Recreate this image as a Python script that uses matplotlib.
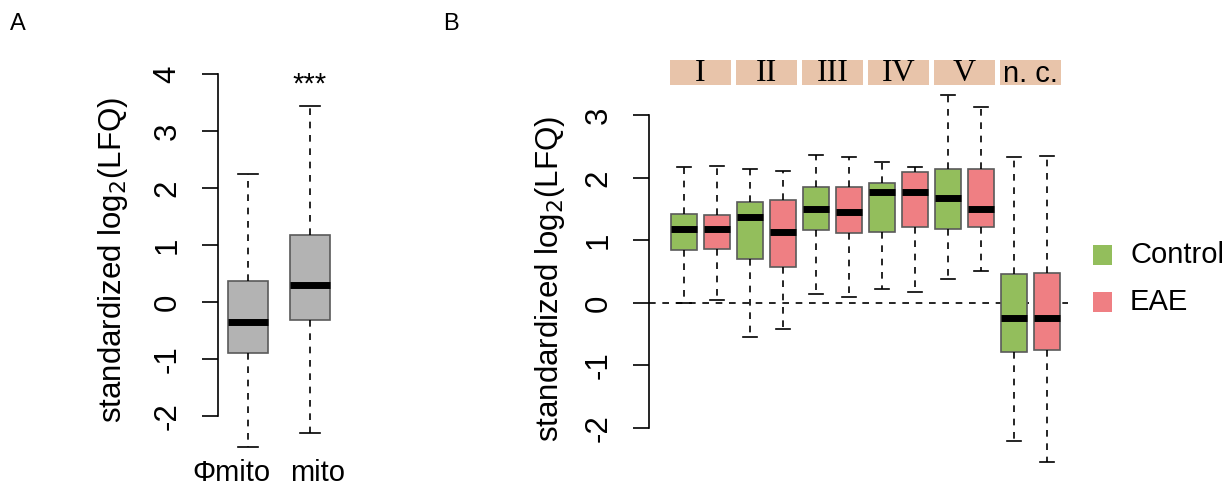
import numpy as np
import matplotlib
matplotlib.use("Agg")
import matplotlib.pyplot as plt

plt.rcParams['font.family'] = ['Liberation Sans', 'DejaVu Sans']

# ---------------- data ----------------
# panel A: whisker low, q1, median, q3, whisker high
a_labels = ["\u03a6mito", "mito"]
a_whislo = [-2.55, -2.30]
a_q1 = [-0.90, -0.32]
a_med = [-0.35, 0.30]
a_q3 = [0.37, 1.17]
a_whishi = [2.25, 3.43]

# panel B: Control / EAE alternating per complex
b_groups = ["I", "II", "III", "IV", "V", "n. c."]
b_conditions = ["Control", "EAE"]
b_whislo = [0.00, 0.04, -0.54, -0.42, 0.15, 0.09, 0.22, 0.18, 0.39, 0.51, -2.21, -2.55]
b_q1 = [0.85, 0.86, 0.70, 0.57, 1.16, 1.12, 1.13, 1.21, 1.19, 1.22, -0.79, -0.76]
b_med = [1.18, 1.18, 1.37, 1.14, 1.50, 1.46, 1.77, 1.78, 1.68, 1.50, -0.24, -0.24]
b_q3 = [1.43, 1.40, 1.61, 1.64, 1.86, 1.85, 1.92, 2.09, 2.15, 2.14, 0.46, 0.48]
b_whishi = [2.18, 2.19, 2.14, 2.11, 2.37, 2.33, 2.25, 2.18, 3.32, 3.14, 2.33, 2.35]

GREEN = "#93BE5C"
RED = "#EF7F83"
PEACH = "#E8C4AA"
GRAY = "#B3B3B3"
EDGE = "#5a5a5a"
TICK_FS = 22.5
LAB_FS = 22.5
FS = 21

W, H = 1231, 490
fig = plt.figure(figsize=(W / 100, H / 100), dpi=100)


def px_axes(x0, y0, x1, y1):
    # pixel box (top-left origin) -> figure axes
    return fig.add_axes([x0 / W, 1 - y1 / H, (x1 - x0) / W, (y1 - y0) / H])


def stats(lo, q1, med, q3, hi):
    return [dict(whislo=lo[i], q1=q1[i], med=med[i], q3=q3[i], whishi=hi[i], fliers=[])
            for i in range(len(lo))]


def draw_boxes(ax, st, pos, colors, width):
    bp = ax.bxp(st, positions=pos, widths=width, patch_artist=True,
                showfliers=False, manage_ticks=False,
                boxprops=dict(edgecolor=EDGE, linewidth=1.2),
                medianprops=dict(color="black", linewidth=5, solid_capstyle="butt"),
                whiskerprops=dict(color="black", linewidth=1.2, linestyle=(0, (4, 4))),
                capprops=dict(color="black", linewidth=1.2),
                capwidths=width / 2)
    for patch, c in zip(bp["boxes"], colors):
        patch.set_facecolor(c)
    return bp


def style_axis(ax, ticks, labelpad):
    for s in ["top", "right", "bottom"]:
        ax.spines[s].set_visible(False)
    ax.spines["left"].set_bounds(ticks[0], ticks[-1])
    ax.spines["left"].set_linewidth(1.2)
    ax.set_yticks(ticks)
    ax.set_yticklabels([str(t) for t in ticks], rotation=90, va="center", fontsize=TICK_FS)
    ax.tick_params(axis="y", length=11.5, width=1.2, pad=14)
    ax.set_ylabel("standardized log$_2$(LFQ)", fontsize=LAB_FS, labelpad=labelpad)


# ---------------- panel A ----------------
axA = px_axes(218, 60, 345, 460)
axA.set_ylim(-(460 - 302) / 57, (302 - 60) / 57)
axA.set_xlim(1 - 30 / 62, 2 + 35 / 62)
draw_boxes(axA, stats(a_whislo, a_q1, a_med, a_q3, a_whishi), [1, 2], [GRAY, GRAY], 0.63)
style_axis(axA, [-2, -1, 0, 1, 2, 3, 4], 16)
axA.set_xticks([])
y_lab = -(473 - 302) / 57
axA.text(1.36, y_lab, a_labels[0], ha="right", va="center", fontsize=FS, clip_on=False)
axA.text(1.68, y_lab, a_labels[1], ha="left", va="center", fontsize=FS, clip_on=False)
axA.text(2, 3.82, "***", ha="center", va="center", fontsize=FS)

# ---------------- panel B ----------------
axB = px_axes(649, 88, 1080, 470)
axB.set_ylim(-(470 - 303) / 62.5, (303 - 88) / 62.5)
axB.set_xlim(1 - 35 / 33, 12 + 33 / 33)
pos = np.arange(1, len(b_med) + 1)
cols = [GREEN if i % 2 == 0 else RED for i in range(len(b_med))]
axB.hlines(0, axB.get_xlim()[0], 12.64, colors="black", linewidth=1.2,
           linestyles=(0, (4, 4)), zorder=0.5)
draw_boxes(axB, stats(b_whislo, b_q1, b_med, b_q3, b_whishi), pos, cols, 0.8)
style_axis(axB, [-2, -1, 0, 1, 2, 3], 12)
axB.set_xticks([])

# complex header boxes above the plot
y_top = (303 - 60) / 62.5
y_bot = (303 - 85) / 62.5
for k, g in enumerate(b_groups):
    xc = 1.5 + 2 * k
    axB.add_patch(plt.Rectangle((xc - 0.91, y_bot), 1.82, y_top - y_bot,
                                facecolor=PEACH, edgecolor="none", clip_on=False))
    if g == "n. c.":
        axB.text(xc, (y_top + y_bot) / 2 - 0.02, g, ha="center", va="center",
                 fontsize=FS, family=["Liberation Sans"], clip_on=False)
    else:
        axB.text(xc, (y_top + y_bot) / 2 - 0.02, g, ha="center", va="center",
                 fontsize=23, family=["Liberation Serif"], clip_on=False)

# legend
for j, (lab, c) in enumerate(zip(b_conditions, [GREEN, RED])):
    yc = 255 + 47 * j
    fig.patches.append(plt.Rectangle((1093 / W, 1 - (yc + 10) / H), 19 / W, 20 / H,
                                     facecolor=c, edgecolor="none",
                                     transform=fig.transFigure))
    fig.text(1130 / W, 1 - yc / H, lab, ha="left", va="center", fontsize=FS)

# panel letters
fig.text(10 / W, 1 - 24 / H, "A", ha="left", va="center", fontsize=17)
fig.text(443 / W, 1 - 24 / H, "B", ha="left", va="center", fontsize=17)

fig.savefig("out.png", dpi=100)
